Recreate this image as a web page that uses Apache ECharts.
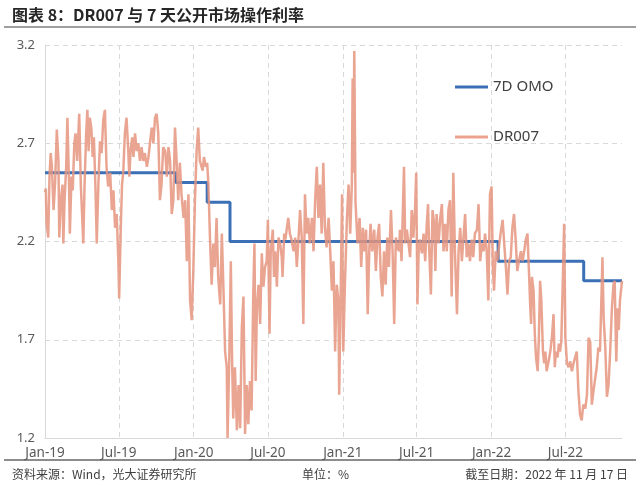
<!DOCTYPE html>
<html><head><meta charset="utf-8">
<script src="https://cdn.jsdelivr.net/npm/echarts@6/dist/echarts.min.js"></script>
<style>html,body{margin:0;padding:0;background:#fff}#c{width:640px;height:486px}</style>
</head><body><div id="c"></div>
<script>
// ---- data ----
const startDate = '2019-01-01';
const endDate = '2022-11-17';
const monthNames = ['Jan','Feb','Mar','Apr','May','Jun','Jul','Aug','Sep','Oct','Nov','Dec'];
const yMin = 1.2, yMax = 3.2, yStep = 0.5;

// 7D OMO policy rate (step changes)
const omoDates  = ['2019-01-01','2019-11-18','2020-02-03','2020-03-30','2022-01-17','2022-08-15','2022-11-17'];
const omoValues = [2.55, 2.50, 2.40, 2.20, 2.10, 2.00, 2.00];

// DR007: observation dates as days since 2019-01-01, and values (%)
const drDayOffset = [
0,2,4,8,11,14,17,21,25,29,33,35,39,43,45,48,52,55,59,61,65,68,72,75,79,84,88,91,94,97,
101,104,107,110,114,117,120,124,127,131,135,139,143,147,151,155,160,164,168,172,176,180,182,186,189,192,196,200,204,207,
210,214,217,221,225,229,233,237,241,245,250,254,258,262,266,270,274,278,282,286,290,295,299,303,307,311,315,319,323,327,
331,335,340,344,348,352,356,360,364,368,372,376,
380,387,390,395,398,401,405,409,413,417,421,425,430,434,438,442,446,448,452,456,459,462,466,471,475,479,483,487,491,495,
499,503,507,511,514,517,520,524,528,532,536,540,544,547,551,554,559,562,565,569,573,577,581,583,587,590,593,597,601,605,
610,614,618,622,626,630,634,638,642,646,650,655,659,663,667,671,675,679,683,687,691,696,700,704,708,712,716,720,722,726,
729,732,736,741,745,749,753,755,757,759,762,767,772,776,780,784,788,792,796,799,803,808,812,816,820,824,828,832,836,840,
844,849,853,857,861,865,869,
871,875,881,884,888,892,896,900,904,908,911,914,917,920,925,929,933,937,940,943,947,951,955,958,961,966,970,974,978,982,
986,990,994,998,1002,1006,1011,1015,1019,1023,1027,1031,1035,1039,1043,1047,1051,1055,1060,1064,1068,1072,1076,1080,1084,1088,1092,1096,1099,1102,
1106,1110,1114,1118,1123,1127,1131,1135,1139,1143,1147,1151,1155,1159,1163,1168,1172,1176,1180,1184,1188,1191,1193,1195,1199,1202,1205,1209,1212,1215,
1218,1222,1225,1228,1231,1235,1240,1244,1248,1251,1254,1258,1261,1264,1267,1271,1274,1277,1281,1285,1289,1293,1297,1301,1305,1309,1313,1317,1321,1326,
1330,1334,1338,1342,1346,1350,1354,1358,1362,1366,1368,1371,1375,1379,1383,1387,1391,1395,1398,1402,1405,1408,1411,1416
];
const drValues = [
2.45,2.47,2.29,2.22,2.53,2.65,2.58,2.36,2.51,2.77,2.61,2.22,2.41,2.49,2.19,2.41,2.58,2.83,2.49,2.24,2.53,2.46,2.70,2.75,2.61,2.85,2.48,2.34,2.19,2.48,
2.75,2.87,2.66,2.83,2.77,2.63,2.73,2.46,2.19,2.49,2.71,2.65,2.82,2.87,2.58,2.48,2.55,2.36,2.46,2.27,2.34,2.10,1.91,2.27,2.49,2.55,2.75,2.83,2.68,2.53,
2.66,2.73,2.63,2.75,2.66,2.70,2.61,2.68,2.61,2.65,2.58,2.63,2.71,2.78,2.70,2.83,2.85,2.75,2.41,2.49,2.68,2.66,2.53,2.68,2.61,2.34,2.41,2.78,2.61,2.41,
2.60,2.44,2.32,2.41,2.10,2.44,1.90,1.80,2.05,2.41,2.66,2.78,
2.61,2.56,2.63,2.58,2.60,2.49,2.21,1.98,2.19,2.07,2.32,2.02,1.88,2.24,1.95,1.64,1.56,1.20,1.58,2.10,1.61,1.30,1.56,1.24,1.47,1.25,1.76,1.92,1.22,1.47,
1.27,1.49,1.34,1.92,2.19,1.49,1.86,1.98,1.78,2.14,1.97,2.07,2.10,2.31,1.73,2.15,2.26,2.02,2.15,1.97,2.22,2.19,2.12,2.02,2.24,2.21,2.26,2.32,2.24,2.21,
2.15,2.22,2.07,2.21,2.36,2.22,1.78,2.44,2.24,2.32,2.19,2.32,2.15,2.41,2.58,2.32,2.49,2.24,2.60,2.27,2.17,2.32,2.15,1.95,2.10,1.64,1.98,1.90,1.42,1.98,
2.44,1.64,1.98,2.32,2.49,2.24,2.49,3.03,2.55,3.17,2.40,2.19,2.32,2.07,2.27,2.15,2.26,1.83,2.17,2.29,2.15,2.26,2.05,2.22,2.29,2.02,1.92,2.15,1.98,2.22,
2.07,2.36,2.15,1.78,2.22,2.17,2.15,
2.26,2.10,2.58,2.19,2.26,2.19,2.12,2.36,2.22,2.36,2.55,1.88,2.15,2.21,2.14,2.24,2.10,2.29,2.39,2.15,1.93,2.36,2.29,2.05,2.34,2.19,2.32,2.39,2.15,2.29,
2.15,2.36,2.41,1.92,2.55,2.15,1.83,2.15,2.27,2.10,2.22,2.34,2.12,2.19,2.10,2.21,2.12,2.24,2.26,2.39,2.10,2.19,2.15,2.24,2.15,1.90,2.44,2.48,2.07,1.95,
2.15,2.10,2.09,2.24,2.31,2.19,2.07,1.93,2.10,2.12,2.27,2.34,2.21,2.05,2.10,2.15,2.10,2.15,2.21,2.24,2.03,1.86,1.78,2.02,1.95,1.73,1.61,1.54,1.71,2.00,
1.90,1.64,1.58,1.64,1.54,1.58,1.64,1.71,1.83,1.56,1.64,1.61,1.68,1.64,1.69,2.02,2.29,1.71,1.58,1.56,1.59,1.54,1.58,1.61,1.64,1.44,1.32,1.29,1.37,1.35,
1.42,1.71,1.69,1.37,1.44,1.44,1.56,1.66,1.64,1.95,2.12,1.81,1.66,1.41,1.47,1.64,1.85,1.98,2.00,1.59,1.86,1.75,1.90,2.00
];

// ---- build daily category axis ----
function fmtDate(t){const d=new Date(t);return d.getUTCFullYear()+'-'+String(d.getUTCMonth()+1).padStart(2,'0')+'-'+String(d.getUTCDate()).padStart(2,'0');}
const categories = [];
(function(){
  const s = Date.parse(startDate+'T00:00:00Z'), e = Date.parse(endDate+'T00:00:00Z');
  for (let t = s; t <= e; t += 86400000) categories.push(fmtDate(t));
})();
const isHalfYear = v => v.slice(5) === '01-01' || v.slice(5) === '07-01';
const labelFmt = v => monthNames[+v.slice(5,7)-1] + '-' + v.slice(2,4);

const omoData = omoDates.map((d,i)=>[d, omoValues[i]]);
const drData = drDayOffset.map((o,i)=>[categories[o], drValues[i]]);

const FONT = '"Noto Sans", "Noto Sans CJK SC", sans-serif';
const CJK = '"Noto Sans CJK SC", "Noto Sans", sans-serif';
const gridColor = '#d9d9d9';
const omoColor = '#3b70b6';
const drColor = '#e6957f';

const chart = echarts.init(document.getElementById('c'), null, {renderer:'canvas'});
chart.setOption({
  animation: false,
  backgroundColor: '#fff',
  grid: {left:45, right:18, top:45, bottom:48, containLabel:false, outerBoundsMode:'none'},
  legend: {
    orient:'vertical', left:450, top:74, padding:5, icon:'rect', itemWidth:33, itemHeight:3, itemGap:34,
    textStyle:{fontSize:15, color:'#404040', fontFamily:FONT, lineHeight:16},
    data:[{name:'7D OMO', itemStyle:{color:omoColor}}, {name:'DR007', itemStyle:{color:'#eba390'}}]
  },
  xAxis: {
    type:'category', data:categories, boundaryGap:false,
    axisLine:{show:true, lineStyle:{color:gridColor, width:1}},
    axisTick:{show:false},
    axisLabel:{interval:(i,v)=>isHalfYear(v), formatter:labelFmt, color:'#595959', fontSize:13.5, margin:8, fontFamily:FONT},
    splitLine:{show:true, interval:(i,v)=>isHalfYear(v) && i>0, lineStyle:{type:[5,4], color:gridColor, width:1}}
  },
  yAxis: {
    type:'value', min:yMin, max:yMax, interval:yStep,
    axisLine:{show:true, lineStyle:{color:gridColor, width:1}},
    axisTick:{show:false},
    axisLabel:{color:'#595959', fontSize:13, margin:10, fontFamily:FONT, formatter:v=>v.toFixed(1)},
    splitLine:{show:true, lineStyle:{type:[5,4], color:gridColor, width:1}}
  },
  series: [
    {name:'7D OMO', type:'line', step:'end', data:omoData, symbol:'none', showSymbol:false,
     lineStyle:{color:omoColor, width:3}, itemStyle:{color:omoColor}, z:2},
    {name:'DR007', type:'line', data:drData, symbol:'none', showSymbol:false,
     lineStyle:{color:drColor, width:2.5, opacity:0.85}, itemStyle:{color:'#eba390'}, z:3}
  ],
  graphic: [
    {type:'text', x:12, y:15, style:{text:'图表 8：DR007 与 7 天公开市场操作利率', font:'bold 16px '+CJK, fill:'#262626', verticalAlign:'middle'}},
    {type:'line', shape:{x1:4, y1:27, x2:636, y2:27}, style:{stroke:'#7f7f7f', lineWidth:1.5}},
    {type:'line', shape:{x1:4, y1:460, x2:636, y2:460}, style:{stroke:'#8c8c8c', lineWidth:2}},
    {type:'text', x:12, y:474, style:{text:'资料来源：Wind，光大证券研究所', font:'12px '+CJK, fill:'#404040', verticalAlign:'middle'}},
    {type:'text', x:302, y:474, style:{text:'单位：%', font:'12px '+CJK, fill:'#404040', verticalAlign:'middle'}},
    {type:'text', x:628, y:474, style:{text:'截至日期：2022 年 11 月 17 日', font:'12px '+CJK, fill:'#404040', verticalAlign:'middle', align:'right'}}
  ]
});
</script>
</body></html>
